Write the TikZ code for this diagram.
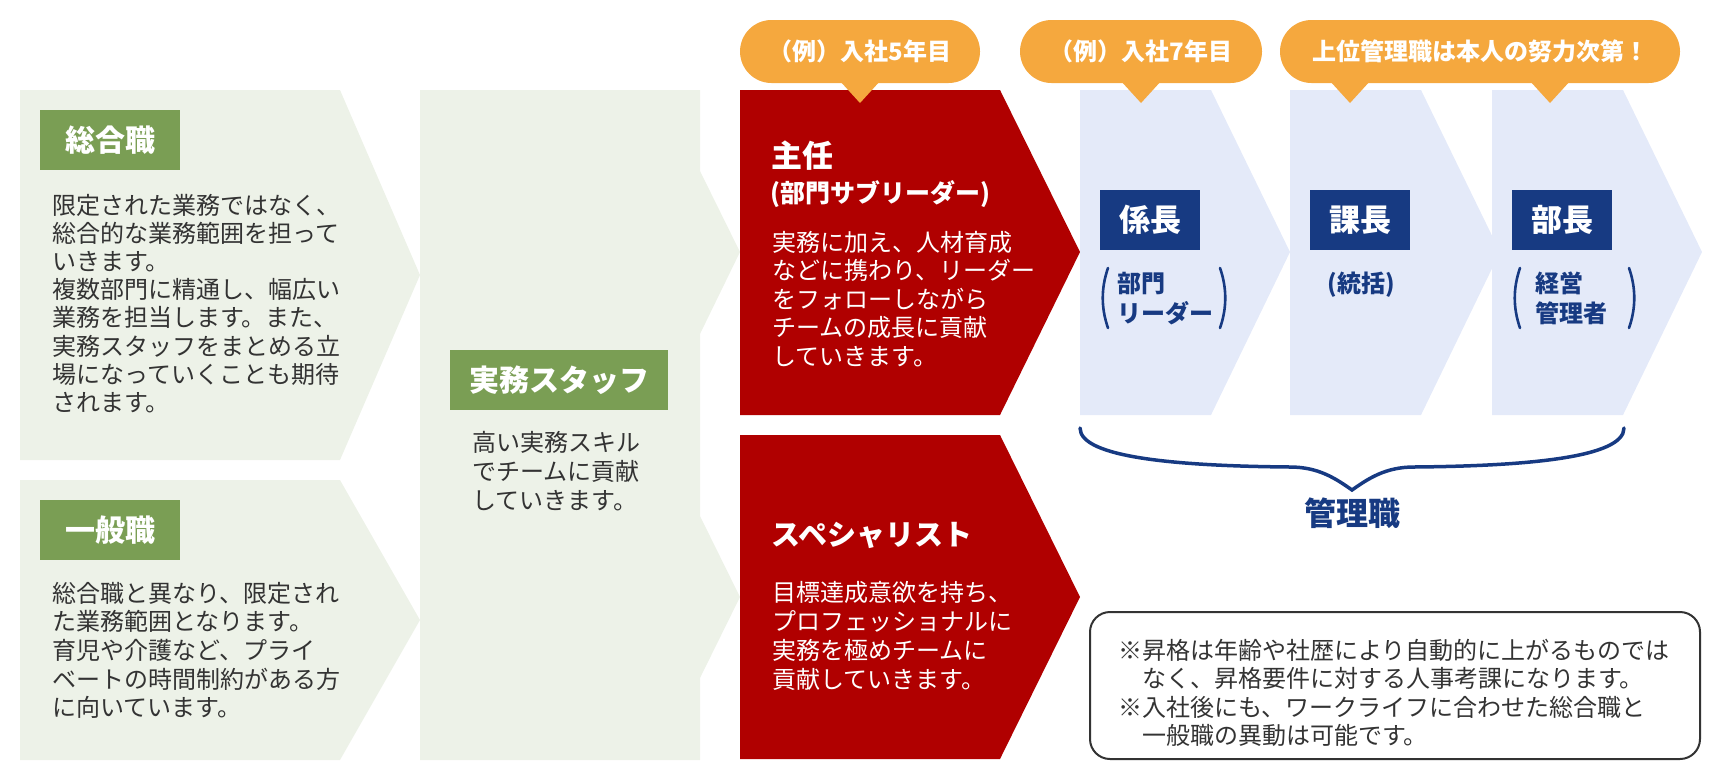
\documentclass[tikz,border=0pt]{standalone}
\usepackage{fontspec}
\setmainfont{Noto Sans CJK JP}
\definecolor{greenbg}{HTML}{EDF2E8}
\definecolor{greentitle}{HTML}{7A9E54}
\definecolor{redbox}{HTML}{B00000}
\definecolor{bluebg}{HTML}{E4EAF9}
\definecolor{navy}{HTML}{173A82}
\definecolor{bubble}{HTML}{F5A83E}
\definecolor{bodygray}{HTML}{333333}
\newcommand\txtlines[2]{\vtop{\baselineskip=#1pt\relax\lineskiplimit=-1000pt\lineskip=0pt\halign{##\hfil\cr#2\crcr}}}
\begin{document}
\begin{tikzpicture}[x=1pt,y=-1pt,
  greentag/.style={fill=greentitle,text=white,inner sep=0,font=\fontsize{30}{34}\selectfont\bfseries,minimum height=60},
  navytag/.style={fill=navy,text=white,inner sep=0,minimum width=100,minimum height=60,font=\fontsize{31}{34}\selectfont\bfseries},
  bubblebox/.style={fill=bubble,text=white,rounded corners=31.5,inner sep=0,minimum height=63,font=\fontsize{24}{28}\selectfont\bfseries},
  bodytext/.style={anchor=base west,inner sep=0,text=bodygray,font=\fontsize{24}{28}\selectfont},
  whitetext/.style={anchor=base west,inner sep=0,text=white,font=\fontsize{24}{28}\selectfont},
  whitehead/.style={anchor=base west,inner sep=0,text=white,font=\fontsize{31}{34}\selectfont\bfseries},
  navytext/.style={inner sep=0,text=navy,font=\fontsize{24}{28}\selectfont\bfseries},
  paren/.style={draw=navy,line width=2.6,line cap=round},
  brace/.style={draw=navy,line width=3.5,line cap=round},
]
\useasboundingbox (0,0) rectangle (1720,780);
% panels
\fill[greenbg] (20,90) -- (340,90) -- (420,275) -- (340,460) -- (20,460) -- cycle;
\fill[greenbg] (20,480) -- (340,480) -- (420,620) -- (340,760) -- (20,760) -- cycle;
\fill[greenbg] (420,90) -- (700,90) -- (700,171) -- (740,252) -- (700,334) -- (700,516) -- (740,597) -- (700,678) -- (700,760) -- (420,760) -- cycle;
\fill[redbox] (740,90) -- (1000,90) -- (1080,252) -- (1000,415) -- (740,415) -- cycle;
\fill[redbox] (740,435) -- (1000,435) -- (1080,597) -- (1000,759) -- (740,759) -- cycle;
\foreach \x in {1080,1290,1492}
  \fill[bluebg] (\x,90) -- ++(131,0) -- ++(79,162) -- ++(-79,163) -- ++(-131,0) -- cycle;
% green titles and bodies
\node[greentag,minimum width=140] (sogo) at (110,140) {総合職};
\node[bodytext] (sogotxt) at (52,214) {\txtlines{28.2}{限定された業務ではなく、\cr 総合的な業務範囲を担って\cr いきます。\cr 複数部門に精通し、幅広い\cr 業務を担当します。また、\cr 実務スタッフをまとめる立\cr 場になっていくことも期待\cr されます。}};
\node[greentag,minimum width=140] (ippan) at (110,530) {一般職};
\node[bodytext] (ippantxt) at (52,602) {\txtlines{28.7}{総合職と異なり、限定され\cr た業務範囲となります。\cr 育児や介護など、プライ\cr ベートの時間制約がある方\cr に向いています。}};
\node[greentag,minimum width=218] (jitsumu) at (559,380) {実務スタッフ};
\node[bodytext] (jitsumutxt) at (472,451) {\txtlines{29}{高い実務スキル\cr でチームに貢献\cr していきます。}};
% red boxes
\node[whitehead] (shunin) at (771,167) {主任};
\node[whitetext,font=\fontsize{25}{28}\selectfont\bfseries] (shuninsub) at (770,202) {(部門サブリーダー)};
\node[whitetext] (shunintxt) at (772,251) {\txtlines{28.6}{実務に加え、人材育成\cr などに携わり、リーダー\cr をフォローしながら\cr チームの成長に貢献\cr していきます。}};
\node[whitehead,font=\fontsize{29}{32}\selectfont\bfseries] (spec) at (771,545) {スペシャリスト};
\node[whitetext] (spectxt) at (772,601) {\txtlines{29.3}{目標達成意欲を持ち、\cr プロフェッショナルに\cr 実務を極めチームに\cr 貢献していきます。}};
% navy tags
\node[navytag] (kakari) at (1150,220) {係長};
\node[navytag] (kacho) at (1360,220) {課長};
\node[navytag] (bucho) at (1562,220) {部長};
\node[navytext,anchor=base west] (kakarisub) at (1117,292) {\txtlines{30}{部門\cr リーダー}};
\node[navytext,anchor=base] (kachosub) at (1361,292) {(統括)};
\node[navytext,anchor=base west] (buchosub) at (1535,292) {\txtlines{30}{経営\cr 管理者}};
\draw[paren] (1108,268) .. controls (1101,288) and (1101,308) .. (1108,328);
\draw[paren] (1220,268) .. controls (1227,288) and (1227,308) .. (1220,328);
\draw[paren] (1520,268) .. controls (1513,288) and (1513,308) .. (1520,328);
\draw[paren] (1629,268) .. controls (1636,288) and (1636,308) .. (1629,328);
% bubbles
\node[bubblebox,minimum width=240] (b1) at (860,51.5) {（例）入社5年目};
\fill[bubble] (839,80) -- (881,80) -- (860,103) -- cycle;
\node[bubblebox,minimum width=242] (b2) at (1141,51.5) {（例）入社7年目};
\fill[bubble] (1120,80) -- (1162,80) -- (1141,103) -- cycle;
\node[bubblebox,minimum width=400] (b3) at (1480,51.5) {上位管理職は本人の努力次第！};
\fill[bubble] (1329,80) -- (1371,80) -- (1350,103) -- cycle;
\fill[bubble] (1529,80) -- (1571,80) -- (1550,103) -- cycle;
% brace
\draw[brace] (1080,428) .. controls (1080,458) and (1180,466) .. (1290,467) .. controls (1318,467) and (1335,478) .. (1352,490) .. controls (1369,478) and (1386,467) .. (1414,467) .. controls (1524,466) and (1624,458) .. (1624,428);
\node[inner sep=0,text=navy,font=\fontsize{32}{36}\selectfont\bfseries] (kanri) at (1352,513) {管理職};
% note
\node[draw=bodygray,line width=2,rounded corners=20,minimum width=610,minimum height=147,inner sep=0] (note) at (1395,685.5) {};
\node[bodytext] (notetxt) at (1118,659) {\txtlines{28.5}{※昇格は年齢や社歴により自動的に上がるものでは\cr 　なく、昇格要件に対する人事考課になります。\cr ※入社後にも、ワークライフに合わせた総合職と\cr 　一般職の異動は可能です。}};
\end{tikzpicture}
\end{document}
